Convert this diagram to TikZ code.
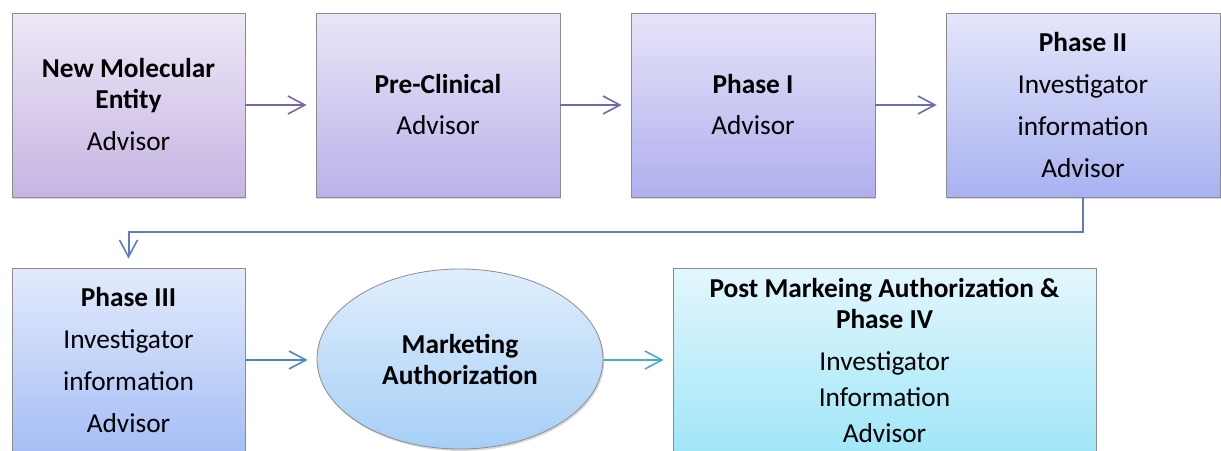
\documentclass[tikz,border=0pt]{standalone}
\usepackage{fontspec}
\setmainfont{Carlito}
\usetikzlibrary{arrows.meta,shadows,shapes.geometric}
\definecolor{nmeT}{HTML}{EEE8F6}\definecolor{nmeB}{HTML}{C6B4E3}
\definecolor{pcT}{HTML}{EAE5F7}\definecolor{pcB}{HTML}{BCB1EA}
\definecolor{paT}{HTML}{E6E4F8}\definecolor{paB}{HTML}{B0AEEE}
\definecolor{pbT}{HTML}{E4E6FA}\definecolor{pbB}{HTML}{A8B2F0}
\definecolor{pcIIIT}{HTML}{E3EBFC}\definecolor{pcIIIB}{HTML}{A6BEF6}
\definecolor{maT}{HTML}{E0EEFC}\definecolor{maB}{HTML}{A6CFF6}
\definecolor{pmT}{HTML}{E3F7FD}\definecolor{pmB}{HTML}{A0E6F8}
\definecolor{arA}{HTML}{8064A2}\definecolor{arB}{HTML}{7466AC}
\definecolor{arC}{HTML}{6A6CB6}\definecolor{arD}{HTML}{5E7DC0}
\definecolor{arE}{HTML}{4F86C0}\definecolor{arF}{HTML}{4BACC6}
\tikzset{
  stage/.style={draw=black!45,line width=0.6pt,inner sep=0pt,align=center,
    minimum height=138pt,
    drop shadow={shadow xshift=1pt,shadow yshift=-1.5pt,opacity=0.3},
    font=\fontsize{20.5pt}{23.25pt}\selectfont},
  flow/.style={line width=1.5pt,-{Straight Barb[length=12.75pt,width=13.5pt,line width=1.2pt]},
    shorten >=6.75pt}
}
\begin{document}
\begin{tikzpicture}[x=0.75pt,y=-0.75pt]
    \useasboundingbox (0,0) rectangle (1221,450);
    \node[stage,minimum width=174.75pt,top color=nmeT,bottom color=nmeB] (NME) at (128.5,105)
      {\textbf{New Molecular}\\\textbf{Entity}\\[8.25pt]Advisor};
    \node[stage,minimum width=183pt,top color=pcT,bottom color=pcB] (PC) at (438,105)
      {\textbf{Pre-Clinical}\\[7.5pt]Advisor};
    \node[stage,minimum width=183pt,top color=paT,bottom color=paB] (P1) at (753,105)
      {\textbf{Phase I}\\[7.5pt]Advisor};
    \node[stage,minimum width=205.5pt,top color=pbT,bottom color=pbB] (P2) at (1083,105)
      {\textbf{Phase II}\\[8.25pt]Investigator\\[8.25pt]information\\[8.25pt]Advisor};
    \node[stage,minimum width=174.75pt,top color=pcIIIT,bottom color=pcIIIB] (P3) at (128.5,360)
      {\textbf{Phase III}\\[8.25pt]Investigator\\[8.25pt]information\\[8.25pt]Advisor};
    \node[stage,ellipse,minimum width=214.5pt,minimum height=135pt,top color=maT,bottom color=maB] (MA) at (460,359)
      {\textbf{Marketing}\\\textbf{Authorization}};
    \node[stage,minimum width=317.25pt,top color=pmT,bottom color=pmB] (PM) at (884.5,360)
      {\textbf{Post Markeing Authorization \&}\\\textbf{Phase IV}\\[8.25pt]Investigator\\[3.75pt]Information\\[3.75pt]Advisor};
    \draw[flow,arA] (NME) -- (PC);
    \draw[flow,arB] (PC) -- (P1);
    \draw[flow,arC] (P1) -- (P2);
    \draw[flow,arD] (P2.south) -- ++(0,35) -| (P3.north);
    \draw[flow,arE] (P3.east) -- (P3.east -| MA.west);
    \draw[flow,arF] (MA.east |- PM.west) -- (PM.west);
  \end{tikzpicture}
\end{document}
